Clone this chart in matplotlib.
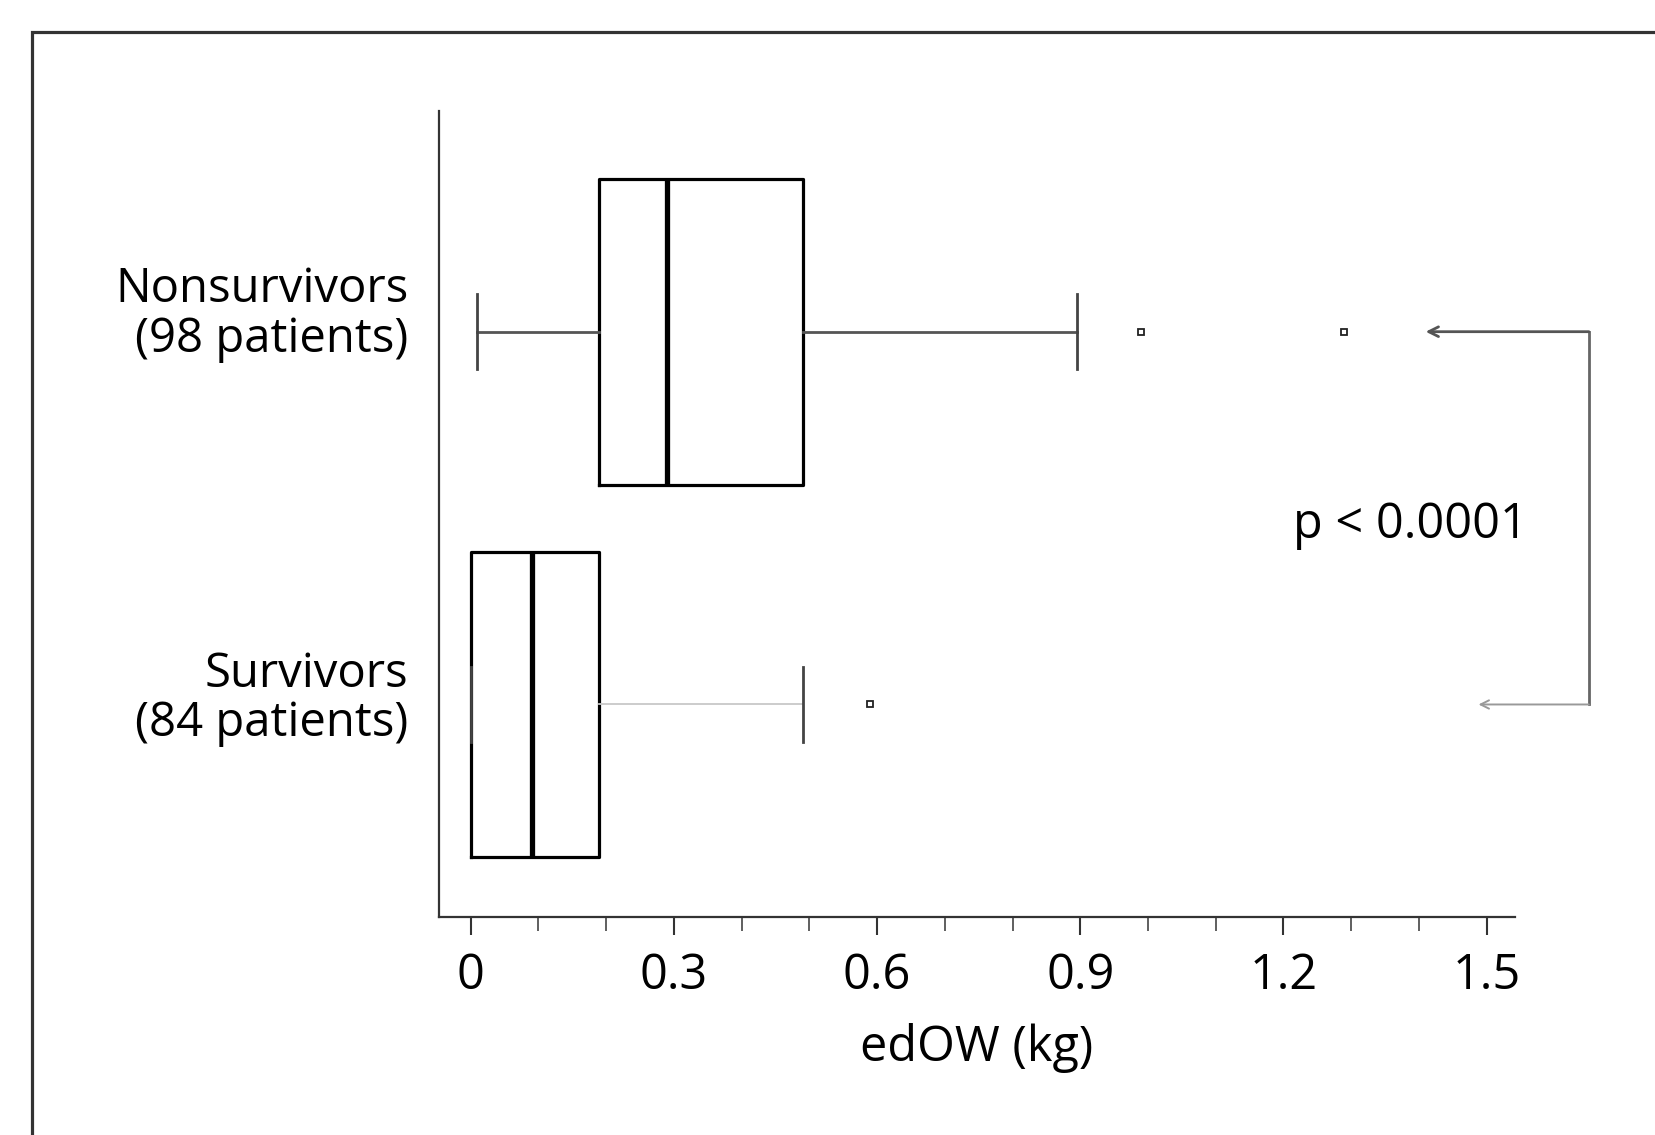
import matplotlib
matplotlib.use('Agg')
import matplotlib.pyplot as plt
from matplotlib.patches import Rectangle
from matplotlib.transforms import ScaledTranslation

plt.rcParams['font.family'] = ['Open Sans', 'DejaVu Sans']

# box plot summary values (kg)
groups = ['Survivors\n(84 patients)', 'Nonsurvivors\n(98 patients)']
q1 = [0.0, 0.19]
medians = [0.09, 0.29]
q3 = [0.19, 0.49]
whis_lo = [0.0, 0.01]
whis_hi = [0.49, 0.895]
outliers = [[0.59], [0.99, 1.29]]
p_text = 'p < 0.0001'
xticks = [0, 0.3, 0.6, 0.9, 1.2, 1.5]
xtick_labels = ['0', '0.3', '0.6', '0.9', '1.2', '1.5']

fig = plt.figure(figsize=(16.56, 11.35), dpi=100)
ax = fig.add_axes([0.2651, 0.1921, 0.6498, 0.7101])

# frame round the whole panel
fig.patches.append(Rectangle((0.0193, -0.2), 1.5, 0.2 + 0.9718, transform=fig.transFigure,
                             fill=False, edgecolor='#333333', linewidth=2.3))

stats = []
for i in range(2):
    stats.append(dict(med=medians[i], q1=q1[i], q3=q3[i], whislo=whis_lo[i],
                      whishi=whis_hi[i], fliers=outliers[i], label=groups[i]))

bp = ax.bxp(stats, positions=[1, 2], widths=0.82, vert=False, patch_artist=False,
            boxprops=dict(color='black', linewidth=2.3),
            medianprops=dict(color='black', linewidth=3.8),
            whiskerprops=dict(color='#555555', linewidth=2.0),
            capprops=dict(color='#444444', linewidth=2.0),
            capwidths=0.2,
            flierprops=dict(marker='s', markersize=5, markerfacecolor='white',
                            markeredgecolor='#222222', markeredgewidth=1.3))
# lighter upper whisker on the survivors box
bp['whiskers'][1].set_color('#c8c8c8')
bp['whiskers'][1].set_linewidth(1.3)

ax.set_xlim(-0.0468, 1.542)
ax.set_ylim(0.43, 2.592)

ax.set_xticks(xticks)
ax.set_xticklabels(xtick_labels, fontsize=35)
ax.set_xticks([x / 10 for x in range(16)], minor=True)
ax.tick_params(axis='x', which='major', length=13, width=1.5, color='#333333', pad=12)
ax.tick_params(axis='x', which='minor', length=10, width=1.2, color='#444444')
ax.tick_params(axis='y', length=0, pad=22, labelsize=34)
ylab_shift = [12, 24]
for lab, dy in zip(ax.get_yticklabels(), ylab_shift):
    lab.set_horizontalalignment('right')
    lab.set_linespacing(1.05)
    lab.set_transform(lab.get_transform() + ScaledTranslation(0, dy / 100, fig.dpi_scale_trans))
ax.set_xlabel('edOW (kg)', fontsize=35, labelpad=16)

for side in ['top', 'right']:
    ax.spines[side].set_visible(False)
for side in ['left', 'bottom']:
    ax.spines[side].set_color('#333333')
    ax.spines[side].set_linewidth(1.6)

# significance bracket with arrows
xb = 1.651
ax.plot([xb, xb], [1, 2], color='#666666', linewidth=2.0, clip_on=False)
ax.annotate('', xy=(1.41, 2), xytext=(xb, 2), xycoords='data', annotation_clip=False,
            arrowprops=dict(arrowstyle='->, head_length=0.7, head_width=0.35',
                            color='#555555', linewidth=2.0, shrinkA=0, shrinkB=0))
ax.annotate('', xy=(1.488, 1), xytext=(xb, 1), xycoords='data', annotation_clip=False,
            arrowprops=dict(arrowstyle='->, head_length=0.6, head_width=0.3',
                            color='#999999', linewidth=1.4, shrinkA=0, shrinkB=0))
ax.text(1.561, 1.48, p_text, ha='right', va='center', fontsize=35)

fig.savefig('out.png', dpi=100)
